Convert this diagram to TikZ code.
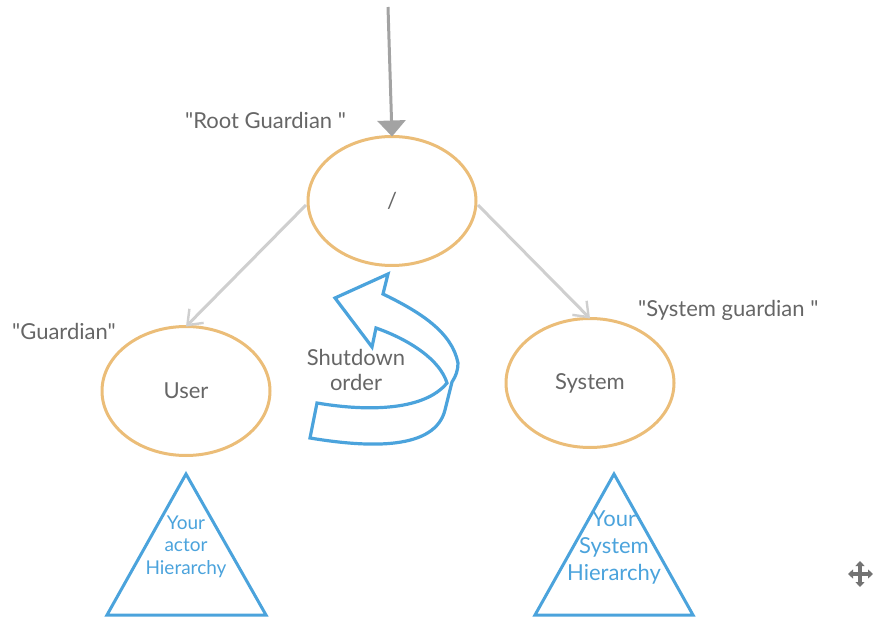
\documentclass[tikz,border=0pt]{standalone}
\usepackage{fontspec}
\setmainfont{Lato}[Ligatures=TeXOff]
\usetikzlibrary{shapes.geometric,arrows.meta}
\definecolor{orng}{HTML}{EBBD78}
\definecolor{blu}{HTML}{4BA3DC}
\definecolor{txt}{HTML}{666666}
\definecolor{lgray}{HTML}{CFCFCF}
\definecolor{dgray}{HTML}{A3A3A3}
\tikzset{
  actor/.style={ellipse,draw=orng,line width=3pt,minimum width=168pt,minimum height=129pt,inner sep=0pt,outer sep=0pt,text=txt,font=\fontsize{22}{26}\selectfont},
  lbl/.style={text=txt,font=\fontsize{22}{24}\selectfont,inner sep=0pt,align=center},
  tri/.style={draw=blu,line width=3pt,line join=miter},
  trilbl/.style={text=blu,inner sep=0pt,align=center},
  child/.style={draw=lgray,line width=3pt,-{Straight Barb[length=13pt,width=20pt,line width=2.4pt]}},
  entry/.style={draw=dgray,line width=3pt,-{Triangle[length=16pt,width=28pt]}},
  bent/.style={draw=blu,line width=3.2pt,line join=miter,fill=white},
  mv/.style={draw=black!55,line width=3.4pt,{Triangle[length=5pt,width=9pt]}-{Triangle[length=5pt,width=9pt]}}
}
\begin{document}
\begin{tikzpicture}[x=1pt,y=-1pt]
\useasboundingbox (0,0) rectangle (873,617);
\node[actor] (root) at (392,201) {/};
\node[actor] (user) at (186,391) {User};
\node[actor] (system) at (590,383) {System};
\coordinate (top) at (388,7);
\draw[entry] (top) -- (root.north);
\coordinate (rootL) at (306,205);
\coordinate (rootR) at (478,205);
\draw[child] (rootL) -- (user.north);
\draw[child] (rootR) -- (system.north);
\node[lbl,anchor=west] (rg) at (185,120) {"Root Guardian "};
\node[lbl,anchor=west] (g) at (12,331) {"Guardian"};
\node[lbl,anchor=west] (sg) at (638,310) {"System guardian "};
% bent arrow
\draw[bent] (458,363) .. controls (452,332) and (420,312) .. (383,294)
  -- (388,274) -- (335,298) -- (372,347) -- (376,328)
  .. controls (410,340) and (440,360) .. (447,383)
  .. controls (425,410) and (370,412) .. (317,403)
  -- (310,438) .. controls (370,448) and (435,450) .. (445,410)
  -- (452,382) .. controls (456,376) and (458,370) .. (458,363) -- cycle;
\node[lbl] (sd) at (356,370) {Shutdown\\[1pt]order};
% triangles
\coordinate (a1) at (186,474); \coordinate (b1) at (107,615); \coordinate (c1) at (266,615);
\draw[tri] (a1) -- (b1) -- (c1) -- cycle;
\node[trilbl,font=\fontsize{19}{22.5}\selectfont] (t1) at (186,546.5) {Your\\actor\\Hierarchy};
\coordinate (a2) at (614,474); \coordinate (b2) at (535,615); \coordinate (c2) at (693,615);
\draw[tri] (a2) -- (b2) -- (c2) -- cycle;
\node[trilbl,font=\fontsize{22}{27}\selectfont] (t2) at (614,548) {Your\\System\\Hierarchy};
% move cursor
\coordinate (mw) at (848,574); \coordinate (me) at (873,574);
\coordinate (mn) at (860,561); \coordinate (ms) at (860,587);
\draw[mv] (mw) -- (me);
\draw[mv] (mn) -- (ms);
\end{tikzpicture}
\end{document}
